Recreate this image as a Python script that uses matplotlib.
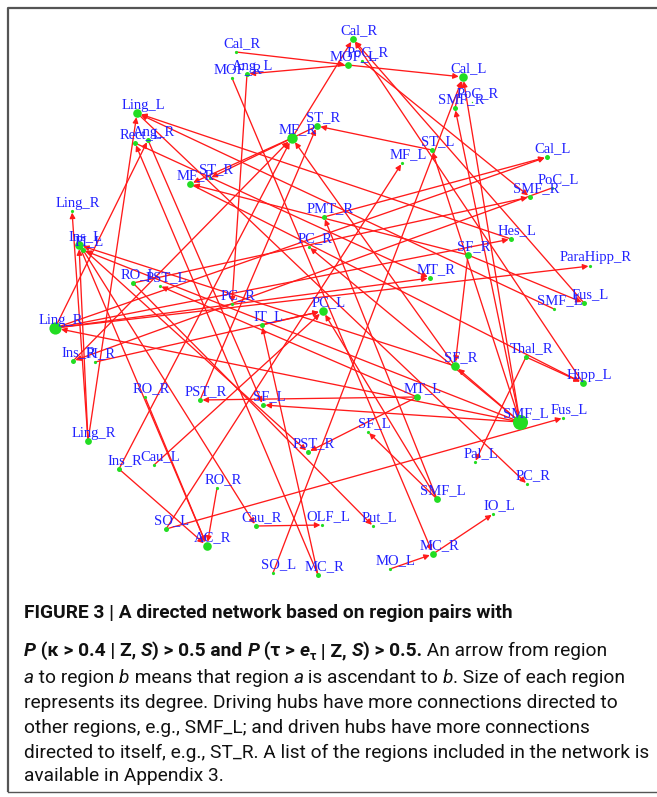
import matplotlib
matplotlib.use("Agg")
import matplotlib.pyplot as plt
from matplotlib import font_manager
from matplotlib.patches import FancyArrowPatch

# ---- network data (layout positions, pixel units) ----
node_ids = ["Cal_R1", "MOF_R", "Ang_L", "Cal_R2", "PoC_R1", "MOF_L", "Cal_L1", "PoC_R2",
            "SMF_R1", "Ling_L", "Rect_L", "Ang_R", "ST_R1", "MF_R1", "ST_L", "MF_L",
            "Cal_L2", "SMF_R2", "PoC_L", "MF_R2", "ST_R2", "Ling_R1", "PMT_R", "Ins_L",
            "PI_L", "PC_R1", "Hes_L", "SF_R1", "ParaHipp_R", "RO_L", "PST_L", "MT_R",
            "PC_R2", "Fus_L1", "SMF_L1", "Ling_R2", "IT_L", "PC_L", "Ins_R1", "PI_R",
            "SF_R2", "Thal_R", "Hipp_L", "RO_R1", "PST_R1", "SF_L1", "MT_L", "SMF_L2",
            "Fus_L2", "Ling_R3", "PST_R2", "SF_L2", "Ins_R2", "Cau_L", "Pal_L", "PC_R3",
            "RO_R2", "SMF_L3", "IO_L", "SO_L1", "Cau_R", "OLF_L", "Put_L", "AC_R",
            "MC_R", "MO_L", "SO_L2", "MC_R2"]
node_labels = ["Cal_R", "MOF_R", "Ang_L", "Cal_R", "PoC_R", "MOF_L", "Cal_L", "PoC_R",
               "SMF_R", "Ling_L", "Rect_L", "Ang_R", "ST_R", "MF_R", "ST_L", "MF_L",
               "Cal_L", "SMF_R", "PoC_L", "MF_R", "ST_R", "Ling_R", "PMT_R", "Ins_L",
               "PI_L", "PC_R", "Hes_L", "SF_R", "ParaHipp_R", "RO_L", "PST_L", "MT_R",
               "PC_R", "Fus_L", "SMF_L", "Ling_R", "IT_L", "PC_L", "Ins_R", "PI_R",
               "SF_R", "Thal_R", "Hipp_L", "RO_R", "PST_R", "SF_L", "MT_L", "SMF_L",
               "Fus_L", "Ling_R", "PST_R", "SF_L", "Ins_R", "Cau_L", "Pal_L", "PC_R",
               "RO_R", "SMF_L", "IO_L", "SO_L", "Cau_R", "OLF_L", "Put_L", "AC_R",
               "MC_R", "MO_L", "SO_L", "MC_R"]
node_x = [236, 232, 247, 353, 362, 348, 463, 472, 455, 137, 135, 148, 317, 292, 432, 402,
          547, 530, 552, 190, 210, 72, 324, 79, 83, 309, 511, 468, 590, 133, 160, 430,
          232, 584, 554, 55, 262, 323, 73, 95, 455, 526, 583, 145, 200, 263, 417, 520,
          563, 88, 308, 368, 119, 154, 475, 527, 217, 437, 493, 166, 256, 322, 373, 207,
          433, 390, 273, 318]
node_y = [52, 78, 74, 39, 61, 65, 77, 102, 108, 113, 143, 140, 126, 138, 150, 163,
          157, 197, 188, 184, 178, 211, 217, 245, 250, 247, 239, 255, 266, 283, 286, 278,
          304, 303, 309, 328, 325, 311, 361, 362, 366, 357, 383, 397, 400, 405, 397, 422,
          418, 441, 452, 432, 469, 465, 462, 484, 488, 499, 514, 529, 526, 525, 526, 546,
          554, 569, 573, 575]

edge_src = ["Cal_R1", "MOF_L", "MOF_L", "MF_R1", "Hipp_L", "Fus_L1", "Ang_L", "MOF_R",
            "Ling_R3", "Ling_R3", "Ling_R3", "MC_R2", "Ling_R2", "Hes_L", "SMF_L1", "ST_L",
            "SF_R2", "MF_R1", "ST_R1", "SF_R1", "Ins_R1", "Ins_R2", "PST_R1", "SMF_R1",
            "Ling_R2", "Ling_R2", "Ling_R2", "PoC_L", "PI_R", "MT_L", "SMF_L2", "MT_L",
            "SMF_L2", "SMF_L2", "Thal_R", "SO_L2", "MT_L", "Ins_R2", "RO_R2", "RO_R1",
            "Cau_L", "SO_L1", "SO_L1", "Cau_R", "MO_L", "MC_R", "RO_L", "SMF_L3",
            "SF_R1", "Thal_R", "SF_R1", "SMF_L2", "SMF_L3", "IT_L", "SMF_L2", "SMF_L2",
            "SMF_L2", "SMF_L2", "SMF_L3", "PoC_R1", "RO_L", "MF_R2", "PI_L", "PMT_R",
            "Ling_L", "Rect_L", "MC_R2", "Ling_R2", "SF_R2", "Ins_L", "Ang_R", "Ins_L"]
edge_dst = ["MOF_L", "Ang_L", "Cal_L1", "Cal_R2", "Cal_R2", "Cal_R2", "PC_R2", "MC_R",
            "Ling_L", "Ling_R1", "Ins_L", "Rect_L", "Ang_R", "Ling_L", "Ling_L", "ST_R1",
            "MF_R1", "MF_R2", "ST_R2", "MF_R2", "MF_R1", "MF_R1", "ST_R1", "Cal_L1",
            "Hes_L", "ParaHipp_R", "Cal_L2", "Ins_R1", "PC_L", "PST_R1", "SF_L1", "PST_R2",
            "SF_R2", "SMF_R1", "Pal_L", "Cal_L1", "PST_L", "AC_R", "AC_R", "AC_R",
            "PC_L", "Fus_L2", "MF_L", "OLF_L", "MC_R", "IO_L", "Put_L", "SF_L2",
            "Fus_L1", "Hipp_L", "SF_R2", "PC_R1", "PMT_R", "PC_L", "PI_L", "Ling_R2",
            "ST_L", "Cal_L1", "PC_L", "SMF_R2", "SMF_R2", "Hipp_L", "Cau_R", "Cal_L2",
            "PC_R3", "MT_R", "IT_L", "MT_R", "Ins_L", "PST_R2", "SF_L1", "AC_R"]

caption_runs = [
    [("FIGURE 3 | A directed network based on region pairs with", "bold", "normal")],
    [("P", "bold", "italic"), (" (\u03ba > 0.4 | Z, ", "bold", "normal"), ("S", "bold", "italic"),
     (") > 0.5 and ", "bold", "normal"), ("P", "bold", "italic"), (" (\u03c4 > ", "bold", "normal"),
     ("e", "bold", "italic"), ("\u03c4", "bold", "sub"), (" | Z, ", "bold", "normal"),
     ("S", "bold", "italic"), (") > 0.5.", "bold", "normal"),
     (" An arrow from region", "normal", "normal")],
    [("a", "normal", "italic"), (" to region ", "normal", "normal"), ("b", "normal", "italic"),
     (" means that region ", "normal", "normal"), ("a", "normal", "italic"),
     (" is ascendant to ", "normal", "normal"), ("b", "normal", "italic"),
     (". Size of each region", "normal", "normal")],
    [("represents its degree. Driving hubs have more connections directed to", "normal", "normal")],
    [("other regions, e.g., SMF_L; and driven hubs have more connections", "normal", "normal")],
    [("directed to itself, e.g., ST_R. A list of the regions included in the network is", "normal", "normal")],
    [("available in Appendix 3.", "normal", "normal")],
]
caption_y = [618, 656, 683, 708, 733, 758, 781]

W, H = 657, 797
fig = plt.figure(figsize=(W / 100, H / 100), dpi=100)
ax = fig.add_axes([0, 0, 1, 1])
ax.set_xlim(0, W)
ax.set_ylim(H, 0)
ax.axis("off")

# frame round the figure
ax.plot([8, 8, W + 5], [792, 8, 8], color="#555555", lw=1.6, solid_capstyle="butt")
ax.plot([8, W + 5], [792, 792], color="#555555", lw=1.0)

pos = {n: (x, y) for n, x, y in zip(node_ids, node_x, node_y)}
degree = {n: 0 for n in node_ids}
for s, d in zip(edge_src, edge_dst):
    degree[s] += 1
    degree[d] += 1
radius = {n: min(1.6 + 0.9 * (degree[n] - 1), 7.5) for n in node_ids}  # px

for s, d in zip(edge_src, edge_dst):
    arr = FancyArrowPatch(pos[s], pos[d], arrowstyle="-|>", mutation_scale=8,
                          color="#ff1a1a", lw=0.95, shrinkA=0,
                          shrinkB=radius[d] * 0.72, zorder=2)
    ax.add_patch(arr)

for n, lab in zip(node_ids, node_labels):
    x, y = pos[n]
    ax.plot(x, y, "o", ms=2 * radius[n] * 0.72, color="#22dd22", mec="none", zorder=3)
    ax.text(x + 6, y - 8, lab, color="#2222ff", fontsize=10.5, family="Liberation Serif",
            ha="center", va="center", zorder=4)

# ---- caption ----
renderer = fig.canvas.get_renderer()
installed = {f.name for f in font_manager.fontManager.ttflist}


def run_width(txt, size, weight, style, family):
    # measure with guard characters so edge spaces count
    t1 = ax.text(0, 0, "|" + txt + "|", fontsize=size, fontweight=weight, fontstyle=style, family=family)
    t2 = ax.text(0, 0, "||", fontsize=size, fontweight=weight, fontstyle=style, family=family)
    w = t1.get_window_extent(renderer).width - t2.get_window_extent(renderer).width
    t1.remove()
    t2.remove()
    return w


# the original uses a condensed grotesque; Roboto is the closest shape here.
# size it so the longest line spans the same width as in the figure
cap_font = next(f for f in ["Liberation Sans Narrow", "Roboto", "Liberation Sans"] if f in installed)
probe = caption_runs[5][0][0]
size = 12 * 622 / run_width(probe, 12, "normal", "normal", cap_font)

for runs, y in zip(caption_runs, caption_y):
    x = 24
    for txt, weight, style in runs:
        fs, dy, st = size, 0, style
        if style == "sub":
            fs, dy, st = size * 0.65, 4, "normal"
        ax.text(x, y + dy, txt, fontsize=fs, fontweight=weight, fontstyle=st,
                family=cap_font, ha="left", va="baseline", color="#111111")
        x += run_width(txt, fs, weight, st, cap_font)

fig.savefig("out.png", dpi=100)
